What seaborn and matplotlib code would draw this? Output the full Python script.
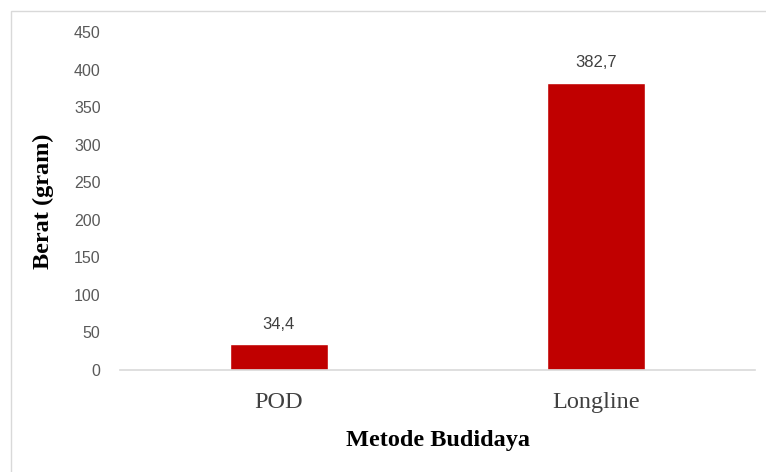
import matplotlib
matplotlib.use("Agg")
import matplotlib.pyplot as plt
import seaborn as sns
import pandas as pd
from matplotlib.patches import Rectangle

# data
metode = ["POD", "Longline"]
berat = [34.4, 382.7]
label_teks = ["34,4", "382,7"]
y_ticks = [0, 50, 100, 150, 200, 250, 300, 350, 400, 450]

df = pd.DataFrame({"Metode": metode, "Berat": berat})

sns.set_style("white")
plt.rcParams["font.family"] = ["Liberation Sans", "DejaVu Sans"]

fig = plt.figure(figsize=(7.66, 4.72), dpi=100)
ax = fig.add_axes([0.1567, 0.2161, 0.8289, 0.7161])

sns.barplot(data=df, x="Metode", y="Berat", color="#C00000", saturation=1,
            width=0.31, ax=ax)

ax.set_xlim(-0.5, 1.5)
ax.set_ylim(0, 450)
ax.set_yticks(y_ticks)
ax.set_yticklabels([str(t) for t in y_ticks], fontsize=11.5, color="#595959")
ax.tick_params(axis="y", length=0, pad=14)
ax.tick_params(axis="x", length=0, pad=16)
for t in ax.get_xticklabels():
    t.set_fontfamily("Liberation Serif")
    t.set_fontsize(17.5)
    t.set_color("#404040")

for c in ax.containers:
    ax.bar_label(c, labels=label_teks, padding=9, fontsize=12, color="#404040")

for s in ["top", "right", "left"]:
    ax.spines[s].set_visible(False)
ax.spines["bottom"].set_color("#D9D9D9")
ax.spines["bottom"].set_linewidth(1.2)

ax.set_xlabel("Metode Budidaya", fontfamily="Liberation Serif", fontweight="bold",
              fontsize=17.5, color="black", labelpad=12)
ax.set_ylabel("Berat (gram)", fontfamily="Liberation Serif", fontweight="bold",
              fontsize=17.5, color="black", labelpad=14)

# light chart-area frame
fig.patches.append(Rectangle((11 / 766, -0.05), 1.0, 1.05 - 11 / 472,
                             transform=fig.transFigure, fill=False,
                             edgecolor="#D9D9D9", linewidth=1.0))

fig.savefig("out.png", dpi=100)
